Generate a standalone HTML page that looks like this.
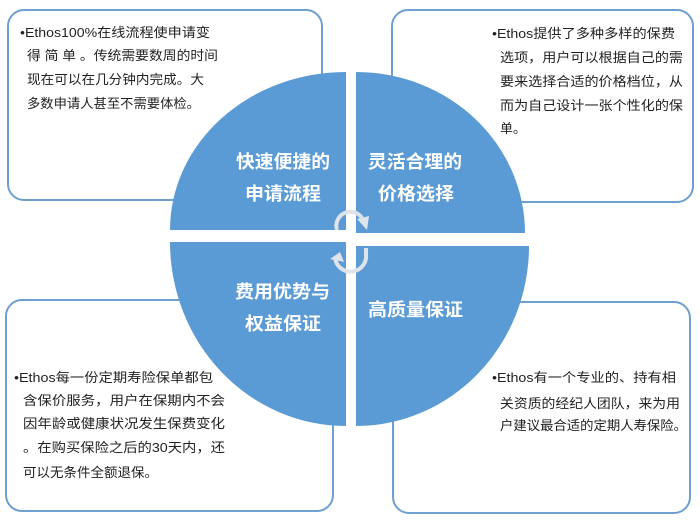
<!DOCTYPE html>
<html><head><meta charset="utf-8"><style>
html,body{margin:0;padding:0;background:#fff;}
svg{display:block;}
.t{font-family:"Liberation Sans","Noto Sans CJK SC",sans-serif;font-size:13px;fill:#222;}
.h{font-family:"Liberation Sans","Noto Sans CJK SC",sans-serif;font-size:18px;font-weight:bold;fill:#fff;}
</style></head><body>
<svg width="700" height="520" viewBox="0 0 700 520" xmlns="http://www.w3.org/2000/svg">
<g fill="#fff" stroke="#6e9fcf" stroke-width="2">
<rect x="8" y="10" width="314" height="190" rx="16"/>
<rect x="392" y="10" width="301" height="192" rx="16"/>
<rect x="6" y="300" width="327" height="211" rx="16"/>
<rect x="393" y="302" width="297" height="211" rx="16"/>
</g>
<g fill="#5b9bd5">
<path d="M346,230 L170,230 A176,158 0 0 1 346,72 Z"/>
<path d="M356,233 L356,72 A169,161 0 0 1 525,233 Z"/>
<path d="M346,242 L346,426 A176,184 0 0 1 170,242 Z"/>
<path d="M356,246 L529,246 A173,180 0 0 1 356,426 Z"/>
</g>
<g fill="none" stroke="#dfe3ea" stroke-width="4">
<path d="M337,230 A14,14 0 0 1 362,218"/>
<path d="M335,258 A15,15 0 0 0 366,254 L366,248"/>
</g>
<g fill="#dfe3ea">
<polygon points="357,219 369,216 367,230"/>
<polygon points="330,259 340,252 344,262"/>
</g>
<text class="h" x="236" y="168" textLength="94" lengthAdjust="spacingAndGlyphs">快速便捷的</text>
<text class="h" x="245" y="200" textLength="76" lengthAdjust="spacingAndGlyphs">申请流程</text>
<text class="h" x="368" y="168" textLength="94" lengthAdjust="spacingAndGlyphs">灵活合理的</text>
<text class="h" x="378" y="200" textLength="76" lengthAdjust="spacingAndGlyphs">价格选择</text>
<text class="h" x="235" y="298" textLength="95" lengthAdjust="spacingAndGlyphs">费用优势与</text>
<text class="h" x="245" y="330" textLength="76" lengthAdjust="spacingAndGlyphs">权益保证</text>
<text class="h" x="368" y="316" textLength="95" lengthAdjust="spacingAndGlyphs">高质量保证</text>

<text class="t" x="20" y="37" textLength="190" lengthAdjust="spacingAndGlyphs">•Ethos100%在线流程使申请变</text>
<text class="t" x="27" y="60" textLength="191" lengthAdjust="spacingAndGlyphs">得 简 单 。传统需要数周的时间</text>
<text class="t" x="27" y="84" textLength="177" lengthAdjust="spacingAndGlyphs">现在可以在几分钟内完成。大</text>
<text class="t" x="27" y="108" textLength="173" lengthAdjust="spacingAndGlyphs">多数申请人甚至不需要体检。</text>

<text class="t" x="492" y="38" textLength="183" lengthAdjust="spacingAndGlyphs">•Ethos提供了多种多样的保费</text>
<text class="t" x="500" y="62" textLength="183" lengthAdjust="spacingAndGlyphs">选项，用户可以根据自己的需</text>
<text class="t" x="500" y="86" textLength="183" lengthAdjust="spacingAndGlyphs">要来选择合适的价格档位，从</text>
<text class="t" x="500" y="110" textLength="183" lengthAdjust="spacingAndGlyphs">而为自己设计一张个性化的保</text>
<text class="t" x="500" y="133">单。</text>

<text class="t" x="14" y="382" textLength="199" lengthAdjust="spacingAndGlyphs">•Ethos每一份定期寿险保单都包</text>
<text class="t" x="23" y="405" textLength="202" lengthAdjust="spacingAndGlyphs">含保价服务，用户在保期内不会</text>
<text class="t" x="23" y="428" textLength="202" lengthAdjust="spacingAndGlyphs">因年龄或健康状况发生保费变化</text>
<text class="t" x="23" y="452" textLength="202" lengthAdjust="spacingAndGlyphs">。在购买保险之后的30天内，还</text>
<text class="t" x="23" y="477" textLength="135" lengthAdjust="spacingAndGlyphs">可以无条件全额退保。</text>

<text class="t" x="492" y="382" textLength="184" lengthAdjust="spacingAndGlyphs">•Ethos有一个专业的、持有相</text>
<text class="t" x="500" y="408" textLength="180" lengthAdjust="spacingAndGlyphs">关资质的经纪人团队，来为用</text>
<text class="t" x="500" y="430" textLength="187" lengthAdjust="spacingAndGlyphs">户建议最合适的定期人寿保险。</text>
</svg>
</body></html>
